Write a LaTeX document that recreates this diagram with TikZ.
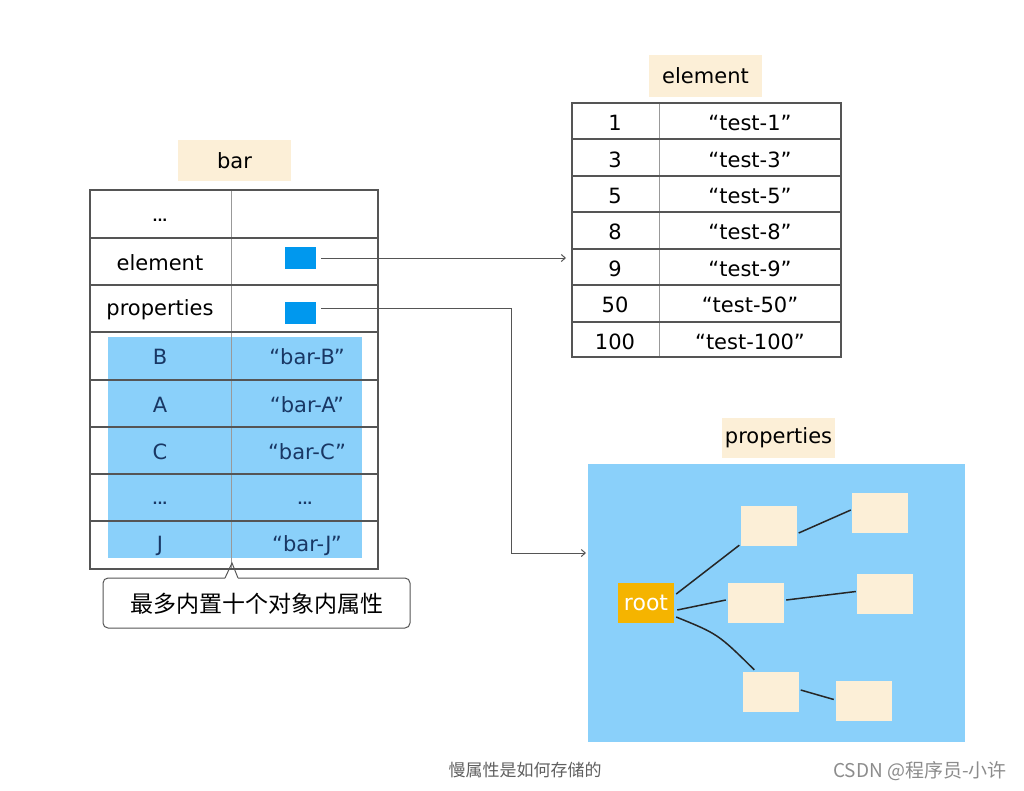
\documentclass[tikz,border=0pt]{standalone}
\usepackage{fontspec}
\setmainfont{DejaVu Sans}
\newfontfamily\cjk{Noto Sans CJK SC}
\usetikzlibrary{arrows.meta}
\definecolor{beige}{RGB}{252,239,215}
\definecolor{lblue}{RGB}{138,208,250}
\definecolor{sqblue}{RGB}{0,152,238}
\definecolor{rootc}{RGB}{245,180,0}
\definecolor{dtext}{RGB}{25,55,100}
\definecolor{grid}{RGB}{85,85,85}
\definecolor{capgray}{RGB}{95,95,95}
\definecolor{csdn}{RGB}{140,140,140}
\tikzset{
  tbl/.style={draw=grid, line width=1.1pt},
  vdiv/.style={draw=grid!60, line width=1pt},
  cell/.style={inner sep=0pt, font=\fontsize{21}{24}\selectfont},
  bcell/.style={cell, text=dtext},
  dots/.style={inner sep=0pt, font=\fontsize{13}{15}\selectfont\bfseries},
  title/.style={fill=beige, inner sep=0pt, font=\fontsize{21}{24}\selectfont},
  sq/.style={fill=sqblue, minimum width=31pt, minimum height=22pt, inner sep=0pt},
  leaf/.style={fill=beige, minimum width=56pt, minimum height=40pt, inner sep=0pt},
  conn/.style={draw=grid, line width=1pt, -{Straight Barb[length=4pt,width=7pt]}},
  edge/.style={draw=black!85, line width=1.5pt},
}
\begin{document}
\begin{tikzpicture}[x=1pt,y=-1pt]
\useasboundingbox (0,0) rectangle (1024,790);
% ---------------- bar ----------------
\node[title, minimum width=113pt, minimum height=41pt] (bartitle) at (234.5,160.5) {bar};
\fill[lblue] (108,337) rectangle (362,558);
\draw[vdiv] (231,190) -- (231,569);
\foreach \y in {238,285,332,380,427,474,521} \draw[tbl] (90,\y) -- (378,\y);
\draw[tbl] (90,190) rectangle (378,569);
\node[dots] (b1) at (160,220) {...};
\node[cell] (b2) at (160,263) {element};
\node[cell] (b3) at (160,310) {properties};
\node[sq] (sqE) at (300.5,258) {};
\node[sq] (sqP) at (300.5,313) {};
\node[bcell] (k1) at (160,357) {B};
\node[bcell] (v1) at (307,357) {“bar-B”};
\node[bcell] (k2) at (160,405) {A};
\node[bcell] (v2) at (307,405) {“bar-A”};
\node[bcell] (k3) at (160,452) {C};
\node[bcell] (v3) at (307,452) {“bar-C”};
\node[dots, text=dtext] (k4) at (160,503) {...};
\node[dots, text=dtext] (v4) at (305,503) {...};
\node[bcell] (k5) at (160,546) {J};
\node[bcell] (v5) at (307,546) {“bar-J”};
% callout
\draw[draw=grid, line width=1pt, rounded corners=5pt]
  (225,578) -- (103,578) -- (103,628) -- (410,628) -- (410,578) -- (238,578);
\draw[draw=grid, line width=1pt] (225,578) -- (232,563) -- (238,578);
\node[inner sep=0pt, font=\cjk\fontsize{23}{26}\selectfont] (note) at (257,604) {最多内置十个对象内属性};
% ---------------- element ----------------
\node[title, minimum width=113pt, minimum height=42pt] (eltitle) at (705.5,76) {element};
\draw[vdiv] (659,103) -- (659,357);
\foreach \y in {139,176,212,249,285,322} \draw[tbl] (572,\y) -- (841,\y);
\draw[tbl] (572,103) rectangle (841,357);
\node[cell] (e1k) at (615,123) {1};
\node[cell] (e1v) at (750,123) {“test-1”};
\node[cell] (e2k) at (615,160) {3};
\node[cell] (e2v) at (750,160) {“test-3”};
\node[cell] (e3k) at (615,196) {5};
\node[cell] (e3v) at (750,196) {“test-5”};
\node[cell] (e4k) at (615,232) {8};
\node[cell] (e4v) at (750,232) {“test-8”};
\node[cell] (e5k) at (615,269) {9};
\node[cell] (e5v) at (750,269) {“test-9”};
\node[cell] (e6k) at (615,305) {50};
\node[cell] (e6v) at (750,305) {“test-50”};
\node[cell] (e7k) at (615,342) {100};
\node[cell] (e7v) at (750,342) {“test-100”};
% ---------------- properties ----------------
\node[title, minimum width=113pt, minimum height=40pt] (prtitle) at (778.5,438) {properties};
\node[fill=lblue, minimum width=377pt, minimum height=278pt, inner sep=0pt] (pbox) at (776.5,603) {};
\node[fill=rootc, text=white, minimum width=56pt, minimum height=40pt, inner sep=0pt, font=\fontsize{22}{24}\selectfont] (root) at (646,603) {root};
\node[leaf] (n1) at (768.5,526) {};
\node[leaf] (n2) at (880,513) {};
\node[leaf] (n3) at (756,603) {};
\node[leaf] (n4) at (885,593.5) {};
\node[leaf] (n5) at (770.5,692) {};
\node[leaf] (n6) at (864,700.5) {};
\draw[edge] ([shift={(2,-9)}]root.east) -- ([shift={(-1,-1)}]n1.south west);
\draw[edge] ([shift={(3,7)}]root.east) -- ([shift={(-2,-3)}]n3.west);
\draw[edge] ([shift={(2,14)}]root.east) .. controls (718,634) .. ([shift={(12,-2)}]n5.north west);
\draw[edge] ([shift={(2,7)}]n1.east) -- ([shift={(-1,-3)}]n2.west);
\draw[edge] ([shift={(2,-3)}]n3.east) -- ([shift={(-1,-2)}]n4.west);
\draw[edge] ([shift={(2,-2)}]n5.east) -- ([shift={(-2,-1)}]n6.west);
% ---------------- connectors ----------------
\coordinate (tipE) at (566,258);
\coordinate (tipP) at (586,553);
\draw[conn] ([xshift=5pt]sqE.east) -- (tipE);
\draw[conn] ([shift={(5,-5)}]sqP.east) -| (511,553) -- (tipP);
% ---------------- captions ----------------
\node[inner sep=0pt, text=capgray, font=\cjk\fontsize{17}{20}\selectfont] (cap) at (525,770) {慢属性是如何存储的};
\node[inner sep=0pt, text=csdn, anchor=east, font=\cjk\fontsize{19}{21}\selectfont] (wm) at (1007,771) {CSDN @程序员-小许};
\end{tikzpicture}
\end{document}
